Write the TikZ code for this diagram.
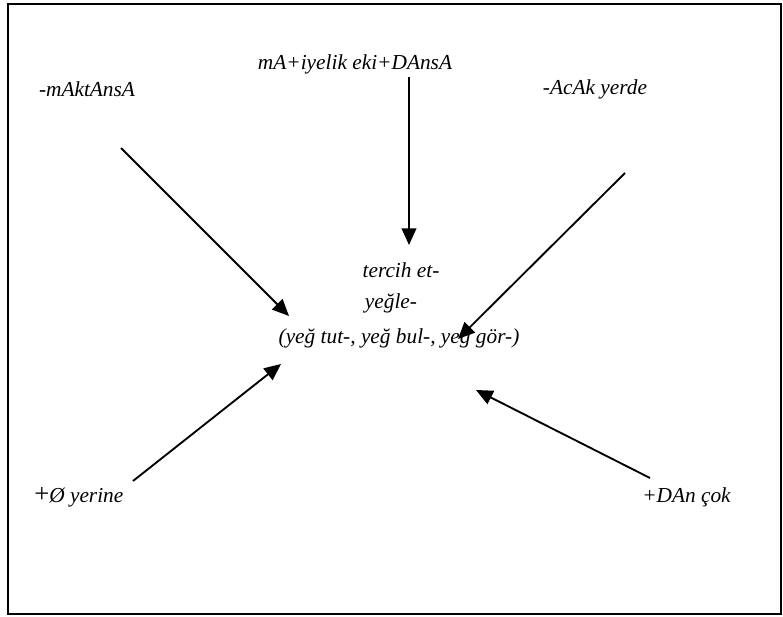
\documentclass[tikz,border=0pt]{standalone}
\usepackage{fontspec}
\setmainfont{Liberation Serif}
\usetikzlibrary{arrows.meta}
\begin{document}
\begin{tikzpicture}[x=0.75pt,y=-0.75pt,
  lbl/.style={inner sep=0pt,font=\fontsize{16}{19}\selectfont\itshape},
  arr/.style={line width=1.4pt,-{Triangle[length=12.5pt,width=11pt]}}]
\useasboundingbox (0,0) rectangle (783,617);
\draw[line width=1.6pt] (8,4) rectangle (781,614);
% labels
\node[lbl] (top) at (355,64) {mA+iyelik eki+DAnsA};
\node[lbl] (tl) at (87,89) {-mAktAnsA};
\node[lbl] (tr) at (595,89) {-AcAk yerde};
\node[lbl] (c1) at (401,270) {tercih et-};
\node[lbl] (c2) at (391,303) {yeğle-};
\node[lbl] (c3) at (399,338) {(yeğ tut-, yeğ bul-, yeğ gör-)};
\node[lbl,anchor=west] (bl) at (34,497) {{\upshape\fontsize{20}{20}\selectfont +}Ø yerine};
\node[lbl,anchor=west] (br) at (642,497) {+DAn çok};
% arrow end points
\coordinate (v1) at (409,77);
\coordinate (v2) at (409,245);
\coordinate (a1) at (121,148);
\coordinate (a2) at (289,316);
\coordinate (b1) at (625,173);
\coordinate (b2) at (458,339);
\coordinate (d1) at (133,481);
\coordinate (d2) at (281,364);
\coordinate (e1) at (650,478);
\coordinate (e2) at (476,390);
\draw[arr] (v1) -- (v2);
\draw[arr] (a1) -- (a2);
\draw[arr] (b1) -- (b2);
\draw[arr] (d1) -- (d2);
\draw[arr] (e1) -- (e2);
\end{tikzpicture}
\end{document}
